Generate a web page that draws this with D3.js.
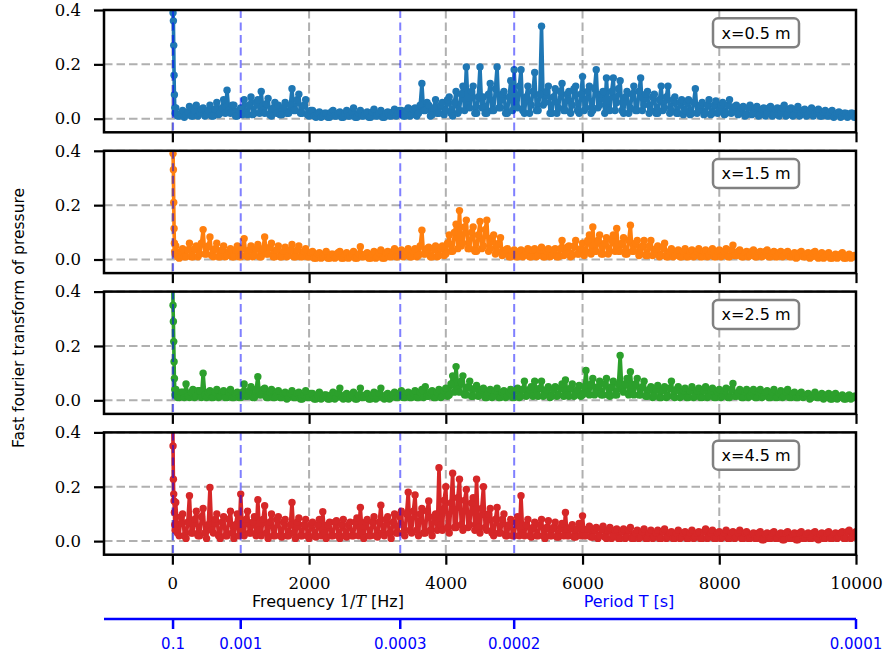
<!DOCTYPE html>
<html>
<head>
<meta charset="utf-8">
<script src="https://cdn.jsdelivr.net/npm/d3@7"></script>
<style>
  body { margin: 0; background: #fff; }
  svg { display: block; }
</style>
</head>
<body>
<div id="chart"></div>
<script>
"use strict";

// FFT bins shown on the chart (Hz), 25 Hz apart
var binFreq = d3.range(50, 10050, 25);
// the first few bins near 0 Hz, where the big peak is
var spikeFreq = [5, 10, 15, 20, 25, 30, 35, 40];

var spike05 = [0.5, 0.39, 0.36, 0.27, 0.16, 0.088, 0.04, 0.02];
var spike15 = [0.5, 0.39, 0.33, 0.21, 0.114, 0.06, 0.03, 0.02];
var spike25 = [0.5, 0.35, 0.29, 0.216, 0.142, 0.08, 0.04, 0.02];
var spike45 = [0.5, 0.35, 0.228, 0.173, 0.148, 0.105, 0.06, 0.04];

// one row = 500 Hz
var amp05 = [
  0.04,0.01, 0.01,0.02, 0.03,0.005, 0.015,0.025, 0.045,0.01, 0.01,0.03, 0.05,0.01, 0.02,0.035, 0.04,0.01, 0.015,0.03,
  0.05,0.01, 0.01,0.035, 0.06,0.015, 0.02,0.04, 0.07,0.02, 0.105,0.03, 0.02,0.05, 0.05,0.01, 0.01,0.03, 0.04,0.015,
  0.07,0.02, 0.015,0.05, 0.08,0.015, 0.02,0.06, 0.07,0.02, 0.1,0.03, 0.02,0.055, 0.075,0.015, 0.01,0.04, 0.06,0.02,
  0.05,0.015, 0.015,0.04, 0.06,0.02, 0.02,0.05, 0.11,0.03, 0.03,0.07, 0.09,0.02, 0.02,0.05, 0.07,0.015, 0.01,0.03,
  0.03,0.01, 0.005,0.02, 0.025,0.005, 0.01,0.02, 0.02,0.005, 0.005,0.025, 0.03,0.01, 0.01,0.02, 0.025,0.005, 0.005,0.02,
  0.03,0.01, 0.01,0.025, 0.04,0.005, 0.005,0.02, 0.03,0.01, 0.01,0.02, 0.025,0.005, 0.005,0.025, 0.035,0.01, 0.01,0.02,
  0.03,0.005, 0.005,0.02, 0.025,0.01, 0.01,0.025, 0.035,0.01, 0.02,0.03, 0.03,0.01, 0.01,0.03, 0.04,0.01, 0.015,0.035,
  0.04,0.01, 0.02,0.05, 0.13,0.03, 0.03,0.06, 0.05,0.01, 0.015,0.04, 0.07,0.02, 0.02,0.05, 0.06,0.015, 0.03,0.07,
  0.08,0.02, 0.01,0.06, 0.1,0.02, 0.03,0.09, 0.12,0.03, 0.19,0.05, 0.04,0.1, 0.12,0.02, 0.02,0.08, 0.19,0.04,
  0.08,0.02, 0.02,0.09, 0.13,0.03, 0.03,0.11, 0.19,0.04, 0.04,0.09, 0.1,0.02, 0.02,0.08, 0.14,0.03, 0.18,0.05,
  0.04,0.12, 0.18,0.03, 0.02,0.08, 0.12,0.02, 0.05,0.1, 0.17,0.03, 0.03,0.09, 0.34,0.05, 0.06,0.1, 0.12,0.02,
  0.02,0.08, 0.11,0.02, 0.04,0.1, 0.13,0.03, 0.03,0.09, 0.1,0.02, 0.05,0.11, 0.12,0.03, 0.02,0.09, 0.155,0.03,
  0.04,0.1, 0.12,0.02, 0.03,0.11, 0.18,0.04, 0.05,0.09, 0.1,0.02, 0.15,0.04, 0.03,0.1, 0.15,0.03, 0.06,0.11,
  0.14,0.03, 0.02,0.08, 0.1,0.02, 0.04,0.09, 0.12,0.03, 0.03,0.1, 0.15,0.03, 0.05,0.09, 0.1,0.02, 0.03,0.08,
  0.09,0.02, 0.02,0.07, 0.12,0.03, 0.04,0.08, 0.12,0.02, 0.03,0.07, 0.08,0.02, 0.02,0.06, 0.07,0.015, 0.03,0.06,
  0.07,0.015, 0.02,0.06, 0.11,0.02, 0.03,0.05, 0.06,0.015, 0.02,0.05, 0.07,0.015, 0.02,0.05, 0.065,0.02, 0.03,0.05,
  0.06,0.015, 0.02,0.05, 0.07,0.02, 0.025,0.045, 0.05,0.015, 0.02,0.04, 0.045,0.01, 0.015,0.04, 0.05,0.015, 0.02,0.04,
  0.045,0.01, 0.015,0.035, 0.04,0.01, 0.02,0.04, 0.045,0.01, 0.015,0.035, 0.04,0.01, 0.02,0.04, 0.05,0.01, 0.015,0.035,
  0.04,0.01, 0.015,0.035, 0.045,0.01, 0.02,0.03, 0.035,0.01, 0.015,0.03, 0.04,0.01, 0.02,0.03, 0.035,0.01, 0.01,0.025,
  0.03,0.01, 0.01,0.025, 0.03,0.005, 0.015,0.02, 0.025,0.005, 0.01,0.02, 0.02,0.005, 0.01,0.02, 0.02,0.005, 0.01,0.015
];

var amp15 = [
  0.05,0.01, 0.005,0.03, 0.04,0.01, 0.01,0.035, 0.06,0.01, 0.01,0.04, 0.05,0.01, 0.02,0.06, 0.11,0.02, 0.02,0.05,
  0.083,0.015, 0.01,0.04, 0.06,0.01, 0.01,0.035, 0.05,0.01, 0.015,0.03, 0.04,0.01, 0.01,0.035, 0.05,0.01, 0.01,0.04,
  0.077,0.015, 0.01,0.035, 0.05,0.01, 0.015,0.04, 0.055,0.01, 0.01,0.04, 0.083,0.02, 0.02,0.045, 0.06,0.01, 0.01,0.035,
  0.05,0.01, 0.01,0.03, 0.045,0.01, 0.015,0.035, 0.055,0.01, 0.01,0.035, 0.05,0.01, 0.01,0.03, 0.04,0.01, 0.01,0.025,
  0.03,0.005, 0.005,0.02, 0.025,0.005, 0.01,0.02, 0.03,0.005, 0.005,0.02, 0.02,0.005, 0.01,0.025, 0.03,0.005, 0.005,0.02,
  0.025,0.005, 0.01,0.02, 0.03,0.005, 0.005,0.02, 0.047,0.01, 0.01,0.02, 0.025,0.005, 0.005,0.02, 0.03,0.005, 0.01,0.025,
  0.035,0.005, 0.005,0.025, 0.03,0.01, 0.01,0.03, 0.04,0.01, 0.01,0.03, 0.035,0.01, 0.015,0.03, 0.04,0.01, 0.01,0.03,
  0.04,0.01, 0.015,0.05, 0.108,0.02, 0.02,0.04, 0.045,0.01, 0.01,0.04, 0.05,0.01, 0.015,0.04, 0.05,0.015, 0.02,0.06,
  0.09,0.03, 0.03,0.1, 0.13,0.04, 0.18,0.05, 0.06,0.12, 0.145,0.04, 0.04,0.1, 0.12,0.03, 0.03,0.09, 0.14,0.04,
  0.05,0.11, 0.145,0.03, 0.04,0.08, 0.09,0.02, 0.03,0.06, 0.08,0.015, 0.02,0.035, 0.04,0.01, 0.01,0.03, 0.035,0.01,
  0.01,0.03, 0.035,0.01, 0.015,0.03, 0.04,0.01, 0.01,0.035, 0.04,0.01, 0.015,0.035, 0.045,0.01, 0.01,0.03, 0.04,0.01,
  0.015,0.035, 0.04,0.01, 0.01,0.04, 0.07,0.015, 0.02,0.045, 0.05,0.01, 0.015,0.05, 0.07,0.02, 0.02,0.04, 0.06,0.015,
  0.03,0.07, 0.09,0.02, 0.12,0.03, 0.03,0.07, 0.09,0.02, 0.02,0.06, 0.08,0.02, 0.03,0.07, 0.09,0.03, 0.114,0.03,
  0.03,0.06, 0.08,0.02, 0.02,0.07, 0.126,0.03, 0.03,0.06, 0.07,0.015, 0.02,0.05, 0.07,0.015, 0.015,0.05, 0.07,0.015,
  0.02,0.04, 0.05,0.01, 0.015,0.045, 0.06,0.01, 0.01,0.03, 0.04,0.01, 0.015,0.03, 0.035,0.01, 0.01,0.03, 0.04,0.01,
  0.01,0.03, 0.035,0.01, 0.015,0.03, 0.04,0.01, 0.01,0.03, 0.035,0.01, 0.015,0.03, 0.04,0.01, 0.01,0.03, 0.035,0.01,
  0.015,0.03, 0.04,0.01, 0.01,0.035, 0.053,0.015, 0.015,0.03, 0.035,0.01, 0.01,0.025, 0.03,0.01, 0.015,0.03, 0.035,0.01,
  0.01,0.025, 0.03,0.01, 0.015,0.03, 0.035,0.01, 0.01,0.025, 0.03,0.01, 0.01,0.025, 0.03,0.01, 0.015,0.025, 0.03,0.01,
  0.01,0.02, 0.025,0.005, 0.01,0.025, 0.03,0.01, 0.01,0.02, 0.025,0.005, 0.01,0.025, 0.03,0.01, 0.005,0.02, 0.025,0.005,
  0.01,0.02, 0.025,0.005, 0.005,0.015, 0.02,0.005, 0.01,0.02, 0.025,0.005, 0.005,0.015, 0.02,0.005, 0.01,0.015, 0.015,0.005
];

var amp25 = [
  0.04,0.01, 0.01,0.03, 0.03,0.01, 0.06,0.015, 0.01,0.03, 0.04,0.01, 0.015,0.035, 0.035,0.01, 0.1,0.02, 0.01,0.03,
  0.035,0.01, 0.01,0.03, 0.04,0.01, 0.015,0.03, 0.035,0.01, 0.01,0.03, 0.04,0.01, 0.01,0.025, 0.03,0.01, 0.01,0.03,
  0.06,0.015, 0.015,0.035, 0.05,0.01, 0.01,0.04, 0.087,0.02, 0.02,0.04, 0.045,0.01, 0.01,0.03, 0.04,0.01, 0.01,0.03,
  0.035,0.01, 0.01,0.025, 0.03,0.005, 0.01,0.025, 0.035,0.01, 0.01,0.025, 0.03,0.005, 0.005,0.02, 0.035,0.01, 0.01,0.025,
  0.025,0.005, 0.005,0.02, 0.03,0.005, 0.01,0.02, 0.02,0.005, 0.005,0.02, 0.03,0.005, 0.01,0.025, 0.045,0.01, 0.005,0.02,
  0.025,0.005, 0.01,0.02, 0.03,0.005, 0.005,0.02, 0.045,0.01, 0.01,0.02, 0.025,0.005, 0.005,0.02, 0.03,0.005, 0.01,0.025,
  0.045,0.01, 0.005,0.02, 0.025,0.005, 0.01,0.02, 0.03,0.01, 0.01,0.025, 0.035,0.01, 0.01,0.025, 0.03,0.01, 0.01,0.025,
  0.035,0.01, 0.01,0.03, 0.04,0.01, 0.05,0.015, 0.015,0.03, 0.035,0.01, 0.01,0.03, 0.04,0.01, 0.015,0.035, 0.045,0.015,
  0.02,0.06, 0.09,0.03, 0.124,0.04, 0.03,0.07, 0.09,0.02, 0.02,0.05, 0.07,0.015, 0.015,0.045, 0.055,0.015, 0.02,0.04,
  0.045,0.01, 0.01,0.03, 0.04,0.01, 0.015,0.035, 0.045,0.01, 0.01,0.03, 0.035,0.01, 0.015,0.03, 0.04,0.01, 0.01,0.035,
  0.045,0.01, 0.015,0.04, 0.07,0.015, 0.02,0.04, 0.05,0.015, 0.07,0.02, 0.015,0.045, 0.07,0.015, 0.02,0.04, 0.05,0.01,
  0.015,0.04, 0.05,0.015, 0.02,0.045, 0.06,0.015, 0.075,0.02, 0.015,0.045, 0.06,0.015, 0.02,0.04, 0.055,0.015, 0.02,0.05,
  0.11,0.03, 0.02,0.06, 0.08,0.02, 0.03,0.05, 0.07,0.02, 0.02,0.06, 0.08,0.02, 0.015,0.05, 0.07,0.02, 0.02,0.06,
  0.165,0.04, 0.03,0.06, 0.08,0.02, 0.105,0.03, 0.02,0.06, 0.08,0.02, 0.02,0.05, 0.07,0.015, 0.015,0.04, 0.05,0.01,
  0.015,0.04, 0.055,0.01, 0.01,0.04, 0.05,0.01, 0.015,0.045, 0.07,0.015, 0.01,0.04, 0.05,0.01, 0.015,0.035, 0.045,0.01,
  0.01,0.035, 0.05,0.01, 0.015,0.035, 0.045,0.01, 0.01,0.035, 0.05,0.01, 0.015,0.035, 0.045,0.01, 0.01,0.03, 0.04,0.01,
  0.015,0.035, 0.045,0.01, 0.01,0.04, 0.062,0.015, 0.015,0.03, 0.04,0.01, 0.01,0.03, 0.04,0.01, 0.015,0.03, 0.04,0.01,
  0.01,0.03, 0.04,0.01, 0.015,0.03, 0.035,0.01, 0.01,0.03, 0.04,0.01, 0.01,0.025, 0.035,0.01, 0.015,0.03, 0.04,0.01,
  0.01,0.025, 0.03,0.01, 0.01,0.02, 0.03,0.01, 0.015,0.02, 0.025,0.005, 0.01,0.02, 0.03,0.01, 0.01,0.02, 0.025,0.005,
  0.01,0.02, 0.025,0.005, 0.005,0.02, 0.025,0.005, 0.01,0.015, 0.02,0.005, 0.005,0.015, 0.02,0.005, 0.01,0.015, 0.015,0.005
];

var amp45 = [
  0.142,0.03, 0.02,0.09, 0.1,0.02, 0.01,0.07, 0.167,0.03, 0.03,0.08, 0.11,0.02, 0.02,0.09, 0.12,0.03, 0.01,0.06,
  0.197,0.04, 0.03,0.08, 0.1,0.02, 0.01,0.07, 0.09,0.02, 0.02,0.08, 0.11,0.03, 0.01,0.06, 0.1,0.02, 0.173,0.04,
  0.02,0.08, 0.11,0.03, 0.03,0.07, 0.09,0.02, 0.152,0.04, 0.02,0.08, 0.13,0.03, 0.01,0.07, 0.1,0.02, 0.02,0.08,
  0.09,0.02, 0.015,0.07, 0.08,0.02, 0.02,0.06, 0.142,0.03, 0.01,0.07, 0.085,0.02, 0.02,0.06, 0.08,0.02, 0.01,0.06,
  0.07,0.02, 0.015,0.06, 0.08,0.02, 0.108,0.03, 0.01,0.06, 0.07,0.02, 0.02,0.07, 0.075,0.02, 0.01,0.06, 0.08,0.02,
  0.015,0.06, 0.07,0.02, 0.02,0.07, 0.085,0.02, 0.124,0.03, 0.01,0.07, 0.08,0.02, 0.02,0.07, 0.09,0.02, 0.015,0.07,
  0.132,0.03, 0.02,0.08, 0.09,0.03, 0.01,0.07, 0.1,0.03, 0.03,0.09, 0.11,0.03, 0.02,0.1, 0.18,0.04, 0.03,0.11,
  0.17,0.04, 0.02,0.1, 0.12,0.03, 0.03,0.11, 0.148,0.04, 0.02,0.09, 0.1,0.04, 0.27,0.06, 0.04,0.15, 0.2,0.05,
  0.03,0.14, 0.25,0.05, 0.05,0.16, 0.228,0.06, 0.04,0.15, 0.19,0.05, 0.06,0.14, 0.16,0.04, 0.228,0.05, 0.03,0.12,
  0.2,0.05, 0.04,0.1, 0.12,0.03, 0.02,0.08, 0.124,0.03, 0.03,0.08, 0.1,0.02, 0.02,0.06, 0.08,0.02, 0.02,0.07,
  0.09,0.02, 0.167,0.03, 0.02,0.06, 0.08,0.02, 0.015,0.05, 0.07,0.02, 0.02,0.06, 0.08,0.02, 0.01,0.05, 0.075,0.02,
  0.02,0.05, 0.07,0.015, 0.015,0.05, 0.065,0.02, 0.105,0.02, 0.02,0.05, 0.06,0.015, 0.015,0.045, 0.065,0.02, 0.093,0.02,
  0.02,0.045, 0.055,0.015, 0.015,0.04, 0.05,0.01, 0.02,0.045, 0.055,0.015, 0.01,0.04, 0.05,0.01, 0.02,0.04, 0.045,0.01,
  0.01,0.035, 0.045,0.01, 0.015,0.04, 0.05,0.01, 0.01,0.03, 0.04,0.01, 0.015,0.035, 0.045,0.01, 0.01,0.03, 0.04,0.01,
  0.015,0.03, 0.04,0.01, 0.01,0.035, 0.045,0.01, 0.015,0.03, 0.035,0.01, 0.01,0.03, 0.04,0.01, 0.015,0.03, 0.035,0.01,
  0.01,0.03, 0.04,0.01, 0.015,0.03, 0.035,0.01, 0.01,0.035, 0.045,0.01, 0.015,0.03, 0.04,0.01, 0.01,0.03, 0.035,0.01,
  0.015,0.03, 0.04,0.01, 0.01,0.03, 0.035,0.01, 0.015,0.03, 0.04,0.01, 0.01,0.03, 0.035,0.01, 0.01,0.025, 0.03,0.01,
  0.01,0.03, 0.035,0.005, 0.005,0.025, 0.03,0.01, 0.01,0.03, 0.035,0.01, 0.01,0.025, 0.03,0.005, 0.005,0.03, 0.035,0.01,
  0.01,0.025, 0.03,0.005, 0.005,0.03, 0.035,0.01, 0.01,0.025, 0.03,0.01, 0.01,0.03, 0.035,0.01, 0.005,0.025, 0.03,0.01,
  0.01,0.03, 0.035,0.01, 0.01,0.025, 0.03,0.01, 0.015,0.03, 0.035,0.01, 0.01,0.035, 0.04,0.01, 0.015,0.03, 0.035,0.01
];

var panelLabels = ["x=0.5 m", "x=1.5 m", "x=2.5 m", "x=4.5 m"];
var panelSpikes = [spike05, spike15, spike25, spike45];
var panelAmps = [amp05, amp15, amp25, amp45];
var panelColors = ["#1f77b4", "#ff7f0e", "#2ca02c", "#d62728"];

var xTicks = [0, 2000, 4000, 6000, 8000, 10000];
var yTicks = [0, 0.2, 0.4];
// period axis: T in seconds, drawn at frequency 1/T
var periodTicks = [0.1, 0.001, 0.0003, 0.0002, 0.0001];
var periodLabels = ["0.1", "0.001", "0.0003", "0.0002", "0.0001"];
var periodLines = [0.1, 0.001, 0.0003, 0.0002];

(function() {
  var width = 885, height = 657;
  var left = 104, right = 856;
  var panelTop = 10, panelStep = 140.8, panelH = 122.3;

  var svg = d3.select("#chart").append("svg")
    .attr("width", width)
    .attr("height", height);

  var x = d3.scaleLinear().domain([-1000, 10000]).range([left, right]);

  panelLabels.forEach(function(label, i) {
    var top = panelTop + i * panelStep;
    var y = d3.scaleLinear().domain([-0.05, 0.4]).range([top + panelH, top]);

    var pts = spikeFreq.map(function(f, k) { return [f, panelSpikes[i][k]]; })
      .concat(binFreq.map(function(f, k) { return [f, panelAmps[i][k]]; }));

    var g = svg.append("g");

    g.append("clipPath").attr("id", "clip" + i)
      .append("rect")
      .attr("x", left).attr("y", top)
      .attr("width", right - left).attr("height", panelH);

    // grid
    g.append("g").selectAll("line").data(xTicks).join("line")
      .attr("x1", function(d) { return x(d); })
      .attr("x2", function(d) { return x(d); })
      .attr("y1", top).attr("y2", top + panelH)
      .attr("stroke", "#b0b0b0").attr("stroke-width", 2)
      .attr("stroke-dasharray", "8.5,4");
    g.append("g").selectAll("line").data(yTicks).join("line")
      .attr("x1", left).attr("x2", right)
      .attr("y1", function(d) { return y(d); })
      .attr("y2", function(d) { return y(d); })
      .attr("stroke", "#b0b0b0").attr("stroke-width", 2)
      .attr("stroke-dasharray", "8.5,4");

    var plot = g.append("g").attr("clip-path", "url(#clip" + i + ")");

    var line = d3.line()
      .x(function(d) { return x(d[0]); })
      .y(function(d) { return y(d[1]); });

    plot.append("path")
      .datum(pts)
      .attr("fill", "none")
      .attr("stroke", panelColors[i])
      .attr("stroke-width", 3.6)
      .attr("stroke-linejoin", "round")
      .attr("d", line);

    plot.append("g").selectAll("circle").data(pts).join("circle")
      .attr("cx", function(d) { return x(d[0]); })
      .attr("cy", function(d) { return y(d[1]); })
      .attr("r", 3.7)
      .attr("fill", panelColors[i]);

    // period markers
    plot.append("g").selectAll("line").data(periodLines).join("line")
      .attr("x1", function(d) { return x(1 / d); })
      .attr("x2", function(d) { return x(1 / d); })
      .attr("y1", top).attr("y2", top + panelH)
      .attr("stroke", "blue").attr("stroke-opacity", 0.5)
      .attr("stroke-width", 2)
      .attr("stroke-dasharray", "8,4.5");

    // axes
    var yAxis = d3.axisLeft(y).tickValues(yTicks)
      .tickFormat(d3.format(".1f")).tickSize(10).tickPadding(13);
    var xAxis = d3.axisBottom(x).tickValues(xTicks).tickSize(10).tickPadding(13)
      .tickFormat(i === 3 ? d3.format("d") : "");

    var ya = g.append("g").attr("transform", "translate(" + left + ",0)").call(yAxis);
    var xa = g.append("g").attr("transform", "translate(0," + (top + panelH) + ")").call(xAxis);
    [ya, xa].forEach(function(a) {
      a.select(".domain").remove();
      a.selectAll("line").attr("stroke", "#000").attr("stroke-width", 2.2);
      a.selectAll("text").attr("fill", "#000")
        .style("font-family", "'DejaVu Serif', serif")
        .style("font-size", "16.5px");
    });

    // frame
    g.append("rect")
      .attr("x", left).attr("y", top)
      .attr("width", right - left).attr("height", panelH)
      .attr("fill", "none").attr("stroke", "#000").attr("stroke-width", 2.5);

    // label box
    g.append("rect")
      .attr("x", 713).attr("y", top + 8.3)
      .attr("width", 86).attr("height", 29).attr("rx", 5)
      .attr("fill", "#fff").attr("stroke", "#808080").attr("stroke-width", 2.5);
    g.append("text")
      .attr("x", 756).attr("y", top + 28.5)
      .attr("text-anchor", "middle")
      .style("font-family", "'DejaVu Sans', sans-serif")
      .style("font-size", "16px")
      .text(label);
  });

  // axis titles
  var freqLabel = svg.append("text")
    .attr("x", 328).attr("y", 607)
    .attr("text-anchor", "middle")
    .style("font-family", "'DejaVu Sans', sans-serif")
    .style("font-size", "16px");
  freqLabel.append("tspan").text("Frequency ");
  freqLabel.append("tspan").style("font-family", "'DejaVu Serif', serif").text("1/");
  freqLabel.append("tspan").style("font-family", "'DejaVu Serif', serif")
    .style("font-style", "italic").text("T");
  freqLabel.append("tspan").text(" [Hz]");

  svg.append("text")
    .attr("x", 629).attr("y", 607)
    .attr("text-anchor", "middle")
    .attr("fill", "blue")
    .style("font-family", "'DejaVu Sans', sans-serif")
    .style("font-size", "16px")
    .text("Period T [s]");

  svg.append("text")
    .attr("transform", "translate(24,318) rotate(-90)")
    .attr("text-anchor", "middle")
    .style("font-family", "'DejaVu Sans', sans-serif")
    .style("font-size", "15.5px")
    .text("Fast fourier transform of pressure");

  // period axis below
  var pg = svg.append("g").attr("transform", "translate(0,619)");
  pg.append("line")
    .attr("x1", left).attr("x2", right)
    .attr("stroke", "blue").attr("stroke-width", 2.5);
  pg.selectAll(".pt").data(periodTicks).join("line")
    .attr("class", "pt")
    .attr("x1", function(d) { return x(1 / d); })
    .attr("x2", function(d) { return x(1 / d); })
    .attr("y1", 0).attr("y2", 10)
    .attr("stroke", "blue").attr("stroke-width", 2.5);
  pg.selectAll("text").data(periodTicks).join("text")
    .attr("x", function(d) { return x(1 / d); })
    .attr("y", 30)
    .attr("text-anchor", "middle")
    .attr("fill", "blue")
    .style("font-family", "'DejaVu Sans', sans-serif")
    .style("font-size", "15px")
    .text(function(d, k) { return periodLabels[k]; });
})();
</script>
</body>
</html>
